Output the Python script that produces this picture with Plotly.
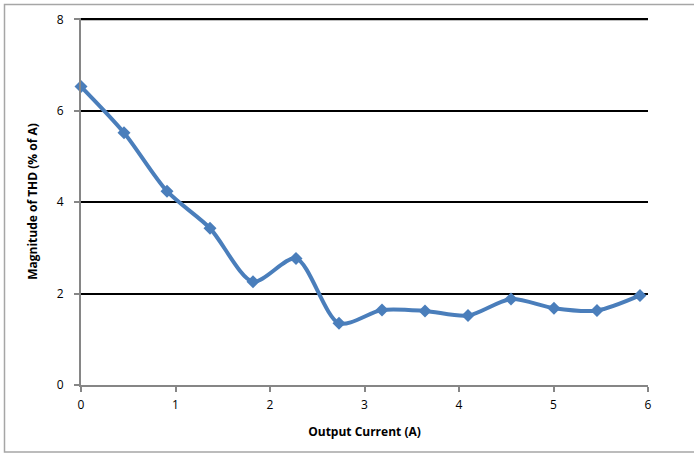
import plotly.graph_objects as go

output_current = [0, 0.455, 0.91, 1.365, 1.82, 2.275, 2.73, 3.185, 3.64, 4.095, 4.55, 5.005, 5.46, 5.915]
thd_percent = [6.53, 5.52, 4.24, 3.43, 2.26, 2.77, 1.35, 1.64, 1.62, 1.52, 1.88, 1.68, 1.63, 1.96]
x_ticks = [0, 1, 2, 3, 4, 5, 6]
y_ticks = [0, 2, 4, 6, 8]

W, H = 694, 454
L, R, T, B = 81, 46, 18, 69
pw, ph = W - L - R, H - T - B

fig = go.Figure()
fig.add_trace(go.Scatter(
    x=output_current, y=thd_percent, mode="lines+markers",
    line=dict(color="#4A7EBB", width=4, shape="spline", smoothing=0.8),
    marker=dict(symbol="diamond", size=10, color="#4A7EBB"),
    showlegend=False, cliponaxis=False,
))

font = dict(family="Open Sans, Liberation Sans, sans-serif", size=12, color="#000000")

fig.update_layout(
    width=W, height=H,
    margin=dict(l=L, r=R, t=T, b=B, pad=0, autoexpand=False),
    paper_bgcolor="white", plot_bgcolor="white",
    font=font,
    xaxis=dict(
        range=[0, 6], tickvals=x_ticks, showgrid=False, zeroline=False, automargin=False,
        showline=True, linecolor="#868686", linewidth=2,
        ticks="outside", ticklen=5, tickcolor="#868686", tickwidth=1.5,
        ticklabelstandoff=3,
        title=dict(text="<b>Output Current (A)</b>", font=dict(size=12), standoff=15),
        tickfont=dict(size=12),
    ),
    yaxis=dict(
        range=[0, 8.03], tickvals=y_ticks, showgrid=True, gridcolor="#000000", gridwidth=2,
        zeroline=False, showline=True, linecolor="#868686", linewidth=2, automargin=False,
        ticks="outside", ticklen=5, tickcolor="#868686", tickwidth=1.5,
        ticklabelstandoff=8,
        title=dict(text="<b>Magnitude of THD (% of A)</b>", font=dict(size=12), standoff=17),
        tickfont=dict(size=12),
    ),
    shapes=[
        dict(
            type="rect", xref="paper", yref="paper",
            x0=(4.5 - L) / pw, x1=(720 - L) / pw,
            y0=(H - B - 452) / ph, y1=(H - B - 4.5) / ph,
            line=dict(color="#A6A6A6", width=1.5), fillcolor="rgba(0,0,0,0)", layer="below",
        ),
        dict(
            type="line", xref="paper", yref="y", x0=0, x1=1, y0=y_ticks[-1], y1=y_ticks[-1],
            line=dict(color="#000000", width=2), layer="below",
        ),
    ],
)

fig.write_html("out.html", config={"displayModeBar": False},
               post_script="document.body.style.margin='0';")
